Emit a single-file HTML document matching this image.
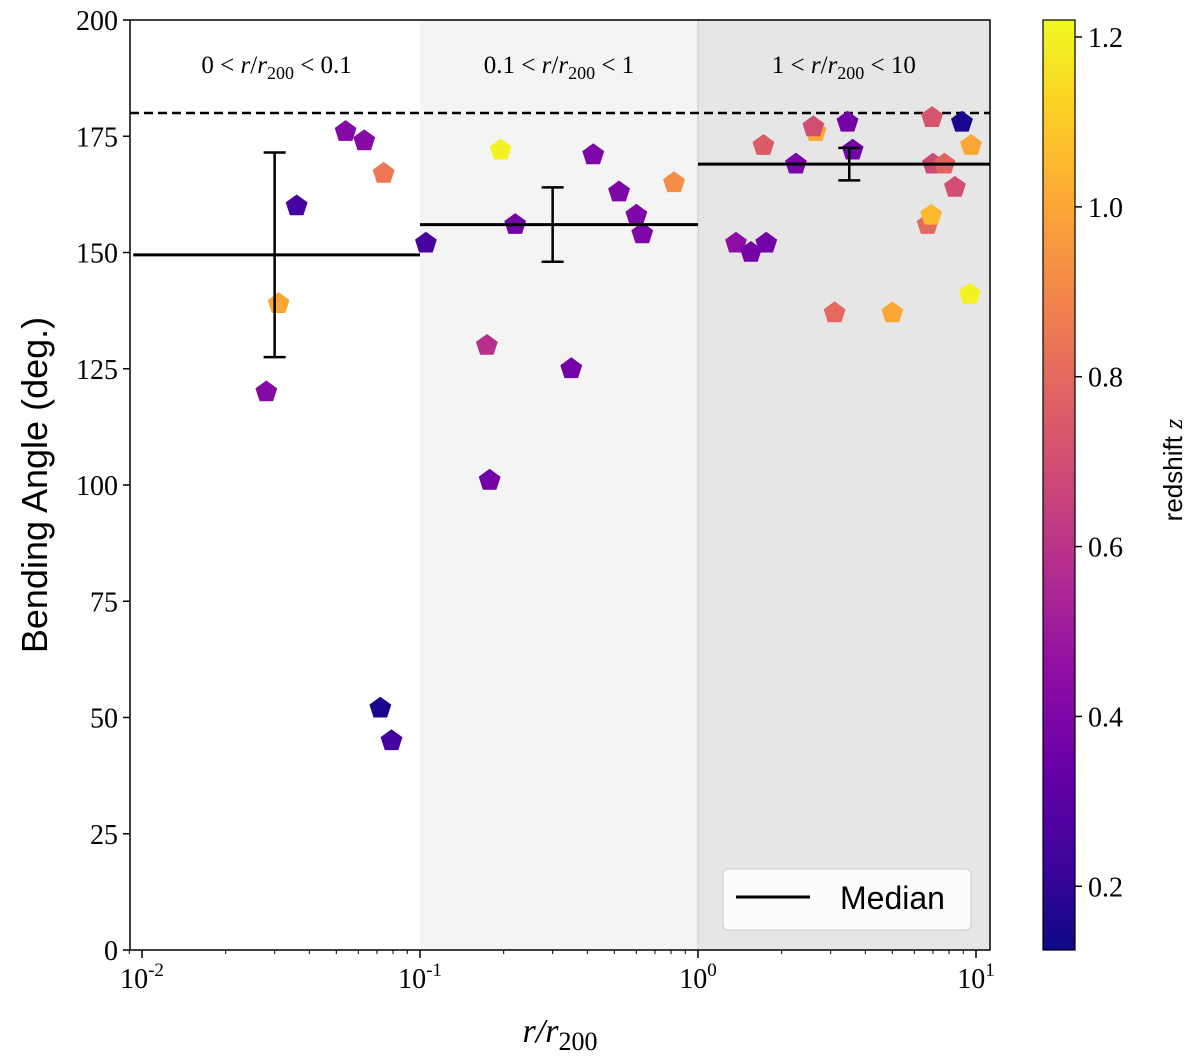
<!DOCTYPE html>
<html><head><meta charset="utf-8"><style>
body{margin:0;background:#fff;}
svg text{font-family:"Liberation Serif",serif;}
</style></head><body>
<svg id="chart" width="1200" height="1057" viewBox="0 0 1200 1057" xmlns="http://www.w3.org/2000/svg">
<defs>
<linearGradient id="plasma" x1="0" y1="1" x2="0" y2="0">
<stop offset="0" stop-color="#0d0887"/><stop offset="0.1" stop-color="#41049d"/><stop offset="0.2" stop-color="#6a00a8"/><stop offset="0.3" stop-color="#8f0da4"/><stop offset="0.4" stop-color="#b12a90"/><stop offset="0.5" stop-color="#cc4778"/><stop offset="0.6" stop-color="#e16462"/><stop offset="0.7" stop-color="#f2844b"/><stop offset="0.8" stop-color="#fca636"/><stop offset="0.9" stop-color="#fcce25"/><stop offset="1" stop-color="#f0f921"/>
</linearGradient>
</defs>
<g id="plot"></g>
</svg>
<script>
const rVals=[0.028,0.036,0.031,0.054,0.063,0.074,0.072,0.079,0.105,
0.195,0.174,0.178,0.22,0.35,0.42,0.52,0.6,0.63,0.82,
1.37,1.55,1.76,1.72,2.25,2.65,2.6,3.1,3.45,3.6,5.0,6.7,6.9,6.95,6.95,7.0,7.7,8.4,8.9,9.6,9.5];
const angles=[120,160,139,176,174,167,52,45,152,
172,130,101,156,125,171,163,158,154,165,
152,150,152,173,169,176,177,137,178,172,137,156,158,179,179,169,169,164,178,173,141];
const redshifts=[0.42,0.25,1.0,0.42,0.42,0.85,0.15,0.25,0.25,
1.2,0.58,0.37,0.37,0.37,0.4,0.4,0.4,0.4,0.92,
0.45,0.37,0.37,0.75,0.4,1.0,0.7,0.8,0.37,0.37,1.0,0.8,1.05,1.0,0.72,0.68,0.78,0.7,0.15,1.0,1.2];
const binEdges=[0.0093,0.1,1,11.2];
const medians=[149.5,156,169];
const errX=[0.03,0.3,3.5];
const errLo=[127.5,148,165.5];
const errHi=[171.5,164,172.5];
const yTicks=[0,25,50,75,100,125,150,175,200];
const xTickExp=[-2,-1,0,1];
const cbTicks=[0.2,0.4,0.6,0.8,1.0,1.2];
const binLo=["0","0.1","1"];
const binHi=["0.1","1","10"];

const L=130,R=990,T=20,B=950;
const x=v=>142+(Math.log10(v)+2)*278;
const y=v=>950-v*4.65;
const zMin=0.125,zMax=1.22;
const cbY=z=>950-(z-zMin)/(zMax-zMin)*930;
const stops=["#0d0887","#41049d","#6a00a8","#8f0da4","#b12a90","#cc4778","#e16462","#f2844b","#fca636","#fcce25","#f0f921"];
function hex(h){return [1,3,5].map(i=>parseInt(h.substr(i,2),16));}
function plasma(z){let t=Math.max(0,Math.min(1,(z-zMin)/(zMax-zMin)))*10;let i=Math.min(9,Math.floor(t));let f=t-i;let a=hex(stops[i]),b=hex(stops[i+1]);return "rgb("+a.map((c,k)=>Math.round(c+(b[k]-c)*f)).join(",")+")";}
const NS="http://www.w3.org/2000/svg";
const g=document.getElementById('plot');
function mk(tag,attrs,parent){const e=document.createElementNS(NS,tag);for(const k in attrs)e.setAttribute(k,attrs[k]);(parent||g).appendChild(e);return e;}

let e;
e=mk('rect',{x:x(binEdges[1]),y:T,width:x(binEdges[2])-x(binEdges[1]),height:B-T,fill:'#f4f4f4'});


e=mk('rect',{x:x(binEdges[2]),y:T,width:R-x(binEdges[2]),height:B-T,fill:'#e6e6e6'});


mk('line',{x1:x(1),x2:x(1),y1:T,y2:B,stroke:'#c8c8c8','stroke-width':1});
e=mk('line',{x1:L,x2:R,y1:y(180),y2:y(180),stroke:'#000','stroke-width':2.5,'stroke-dasharray':'9,5'});



for(let i=0;i<3;i++){const cx=(Math.max(L,x(binEdges[i]))+Math.min(R,x(binEdges[i+1])))/2;
 const t=mk('text',{x:cx,y:73,'text-anchor':'middle','font-size':25});
 t.innerHTML=binLo[i]+' &lt; <tspan font-style="italic">r</tspan>/<tspan font-style="italic">r</tspan><tspan dy="6" font-size="18">200</tspan><tspan dy="-6"> &lt; '+binHi[i]+'</tspan>';
 
 }

for(let i=0;i<rVals.length;i++){
 const cx=x(rVals[i]),cy=y(angles[i]),r=11.5;let pts=[];
 for(let k=0;k<5;k++){const a=-Math.PI/2+k*2*Math.PI/5;pts.push((cx+r*Math.cos(a)).toFixed(1)+","+(cy+r*Math.sin(a)).toFixed(1));}
 const p=mk('polygon',{points:pts.join(' '),fill:plasma(redshifts[i])});
 
 
}
for(let i=0;i<3;i++){
 const m=mk('line',{x1:Math.max(L,x(binEdges[i])),x2:Math.min(R,x(binEdges[i+1])),y1:y(medians[i]),y2:y(medians[i]),stroke:'#000','stroke-width':3});
 
 
 const ex=x(errX[i]);
 mk('line',{x1:ex,x2:ex,y1:y(errLo[i]),y2:y(errHi[i]),stroke:'#000','stroke-width':2.5});
 mk('line',{x1:ex-11,x2:ex+11,y1:y(errLo[i]),y2:y(errLo[i]),stroke:'#000','stroke-width':2.5});
 const eb=mk('line',{x1:ex-11,x2:ex+11,y1:y(errHi[i]),y2:y(errHi[i]),stroke:'#000','stroke-width':2.5});
 
 
}
mk('rect',{x:L,y:T,width:R-L,height:B-T,fill:'none',stroke:'#000','stroke-width':1.5});
yTicks.forEach(v=>{mk('line',{x1:L-7,x2:L,y1:y(v),y2:y(v),stroke:'#000','stroke-width':1.5});
 const t=mk('text',{x:L-12,y:y(v)+10,'text-anchor':'end','font-size':28});t.textContent=v;
 
 });
xTickExp.forEach(p=>{const px=x(Math.pow(10,p));mk('line',{x1:px,x2:px,y1:B,y2:B+8,stroke:'#000','stroke-width':1.5});
 const t=mk('text',{x:px,y:B+38,'text-anchor':'middle','font-size':28});t.innerHTML='10<tspan dy="-12" font-size="19">'+p+'</tspan>';
 
 
 if(p<1)for(let k=2;k<10;k++){const mx=x(k*Math.pow(10,p));if(mx<R)mk('line',{x1:mx,x2:mx,y1:B,y2:B+4,stroke:'#000','stroke-width':1});}
});
mk('line',{x1:x(0.009),x2:x(0.009),y1:B,y2:B+4,stroke:'#000','stroke-width':1});
let t=mk('text',{x:560,y:1042,'text-anchor':'middle','font-size':34,'font-style':'italic'});t.innerHTML='r/r<tspan dy="8" font-size="26" font-style="normal">200</tspan>';


t=mk('text',{x:0,y:0,'text-anchor':'middle','font-size':36,transform:'translate(47,485) rotate(-90)',style:'font-family:"Liberation Sans",sans-serif'});t.textContent='Bending Angle (deg.)';


const lg=mk('g',{});


mk('rect',{x:723,y:869,width:248,height:61,rx:5,fill:'#fff',stroke:'#ccc','stroke-width':1,'fill-opacity':0.85},lg);
mk('line',{x1:736,x2:810,y1:897,y2:897,stroke:'#000','stroke-width':3},lg);
t=mk('text',{x:840,y:909,'font-size':32,style:'font-family:"Liberation Sans",sans-serif'},lg);t.textContent='Median';


e=mk('rect',{x:1043,y:20,width:32,height:930,fill:'url(#plasma)',stroke:'#000','stroke-width':1.2});


cbTicks.forEach(v=>{mk('line',{x1:1075,x2:1082,y1:cbY(v),y2:cbY(v),stroke:'#000','stroke-width':1.5});
 const tt=mk('text',{x:1088,y:cbY(v)+10,'font-size':28});tt.textContent=v.toFixed(1);
 
 });
t=mk('text',{x:0,y:0,'text-anchor':'middle','font-size':26,transform:'translate(1182,470) rotate(-90)',style:'font-family:"Liberation Sans",sans-serif'});t.innerHTML='redshift <tspan font-style="italic" style="font-family:\'Liberation Serif\',serif">z</tspan>';


</script>
</body></html>
